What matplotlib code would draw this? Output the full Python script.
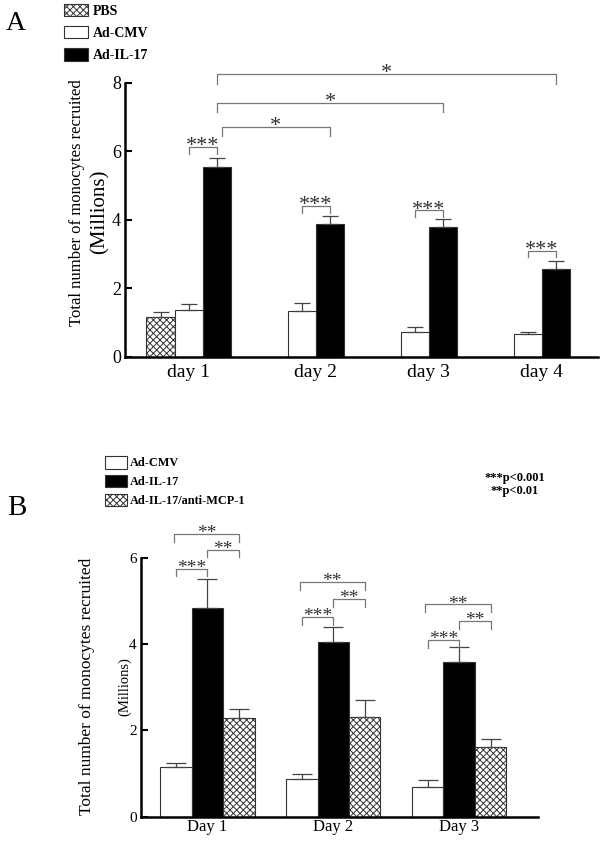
import numpy as np
import matplotlib.pyplot as plt

plt.rcParams['font.family'] = ['Liberation Serif', 'DejaVu Serif']
plt.rcParams['hatch.linewidth'] = 0.7

# Panel A: monocytes recruited (millions), mean and upper error
days_a = ['day 1', 'day 2', 'day 3', 'day 4']
pbs_a = [1.17]
pbs_a_err = [0.13]
cmv_a = [1.37, 1.32, 0.72, 0.66]
cmv_a_err = [0.17, 0.24, 0.16, 0.06]
il17_a = [5.53, 3.87, 3.80, 2.57]
il17_a_err = [0.27, 0.25, 0.23, 0.21]

# *** brackets Ad-CMV vs Ad-IL-17 (bracket height per day)
sig_a_within = [6.12, 4.39, 4.27, 3.10]
# * brackets day 1 Ad-IL-17 vs later days
sig_a_across_day = [1, 2, 3]
sig_a_across_h = [6.72, 7.42, 8.25]

# Panel B
days_b = ['Day 1', 'Day 2', 'Day 3']
cmv_b = [1.14, 0.87, 0.69]
cmv_b_err = [0.10, 0.11, 0.15]
il17_b = [4.84, 4.04, 3.59]
il17_b_err = [0.66, 0.35, 0.35]
mcp_b = [2.29, 2.32, 1.61]
mcp_b_err = [0.20, 0.38, 0.20]

# bracket heights: CMV vs IL-17 (***), IL-17 vs anti-MCP-1 (**), CMV vs anti-MCP-1 (**)
sig_b_cmv_il = [5.74, 4.62, 4.09]
sig_b_il_mcp = [6.18, 5.04, 4.53]
sig_b_cmv_mcp = [6.55, 5.43, 4.92]

edge = '#333333'
grey = '#777777'


def bars(ax, x, y, err, color, hatch=None, capsize=5.5, label=None):
    zeros = np.zeros(len(y))
    return ax.bar(x, y, width=1.0, color=color, edgecolor=edge, linewidth=0.8,
                  hatch=hatch, yerr=[zeros, err], capsize=capsize, label=label,
                  error_kw=dict(ecolor='#444444', elinewidth=0.9, capthick=0.9))


def bracket(ax, x0, x1, y, drop, label, fs, dy):
    ax.plot([x0, x0, x1, x1], [y - drop, y, y, y - drop], color=grey, lw=0.9,
            clip_on=False)
    ax.annotate(label, ((x0 + x1) / 2, y), xytext=(0, dy), textcoords='offset points',
                ha='center', va='baseline', fontsize=fs, color='#333333',
                annotation_clip=False)


def style(ax, ylim, yticks, ytick_fs, xtick_fs, xpad):
    ax.spines[['top', 'right']].set_visible(False)
    ax.spines['left'].set_linewidth(1.8)
    ax.spines['bottom'].set_linewidth(1.8)
    ax.set_ylim(ylim)
    ax.set_yticks(yticks)
    ax.tick_params(axis='y', direction='in', length=5, width=1.5, labelsize=ytick_fs, pad=3)
    ax.tick_params(axis='x', length=0, labelsize=xtick_fs, pad=xpad)


fig = plt.figure(figsize=(6.05, 8.43), dpi=100)

# ---------------- Panel A ----------------
axA = fig.add_axes([0.2066, 0.5769, 0.7818, 0.3250])
il_pos = 4 * np.arange(len(days_a))
cmv_pos = il_pos - 1
pbs_pos = [il_pos[0] - 2]

hA_pbs = bars(axA, pbs_pos, pbs_a, pbs_a_err, 'white', hatch='xxxxx', label='PBS')
hA_cmv = bars(axA, cmv_pos, cmv_a, cmv_a_err, 'white', label='Ad-CMV')
hA_il = bars(axA, il_pos, il17_a, il17_a_err, 'black', label='Ad-IL-17')

axA.set_xlim(-3.26, 13.49)
style(axA, (0, 8), [0, 2, 4, 6, 8], 13, 14, 5)
axA.set_xticks([cmv_pos[0]] + list(il_pos[1:] - 0.5))
axA.set_xticklabels(days_a)

for i, h in enumerate(sig_a_within):
    bracket(axA, cmv_pos[i], il_pos[i], h, 0.2, '***', 16, -3)
for j, (d, h) in enumerate(zip(sig_a_across_day, sig_a_across_h)):
    left = il_pos[0] + (0.17 if j == 0 else 0)
    bracket(axA, left, il_pos[d], h, 0.29, '*', 16, -3)

fig.text(76.7 / 605, 1 - 203 / 843, 'Total number of monocytes recruited',
         rotation=90, ha='center', va='center', fontsize=12)
fig.text(100 / 605, 1 - 212 / 843, '(Millions)', rotation=90,
         ha='center', va='center', fontsize=15)
fig.text(16 / 605, 1 - 24 / 843, 'A', ha='center', va='center', fontsize=20)

fig.legend(handles=[hA_pbs, hA_cmv, hA_il], loc='upper left',
           bbox_to_anchor=(64 / 605, 1 - 4 / 843), frameon=False, borderpad=0,
           borderaxespad=0, handlelength=1.73, handleheight=0.98,
           handletextpad=0.35, labelspacing=0.6,
           prop={'family': 'Liberation Serif', 'weight': 'bold', 'size': 10})

# ---------------- Panel B ----------------
axB = fig.add_axes([0.2331, 0.0312, 0.6557, 0.3072])
ilb_pos = 4 * np.arange(len(days_b))
cmvb_pos = ilb_pos - 1
mcpb_pos = ilb_pos + 1

hB_cmv = bars(axB, cmvb_pos, cmv_b, cmv_b_err, 'white', capsize=7, label='Ad-CMV')
hB_il = bars(axB, ilb_pos, il17_b, il17_b_err, 'black', capsize=7, label='Ad-IL-17')
hB_mcp = bars(axB, mcpb_pos, mcp_b, mcp_b_err, 'white', hatch='xxxxx', capsize=7,
              label='Ad-IL-17/anti-MCP-1')

axB.set_xlim(-2.11, 10.50)
style(axB, (0, 6), [0, 2, 4, 6], 11, 12, 2)
axB.set_xticks(ilb_pos)
axB.set_xticklabels(days_b)

for i in range(len(days_b)):
    bracket(axB, cmvb_pos[i], ilb_pos[i], sig_b_cmv_il[i], 0.17, '***', 14, -3)
    bracket(axB, ilb_pos[i], mcpb_pos[i], sig_b_il_mcp[i], 0.17, '**', 14, -3)
    bracket(axB, cmvb_pos[i] - 0.07, mcpb_pos[i], sig_b_cmv_mcp[i], 0.18, '**', 14, -3)

fig.text(87 / 605, 1 - 686 / 843, 'Total number of monocytes recruited',
         rotation=90, ha='center', va='center', fontsize=12.5)
fig.text(125 / 605, 1 - 687 / 843, '(Millions)', rotation=90,
         ha='center', va='center', fontsize=10.5)
fig.text(17 / 605, 1 - 508 / 843, 'B', ha='center', va='center', fontsize=21)
fig.text(514.5 / 605, 1 - 484.7 / 843, '***p<0.001\n**p<0.01', ha='center',
         va='center', multialignment='center', fontsize=9, fontweight='bold',
         linespacing=1.1)

fig.legend(handles=[hB_cmv, hB_il, hB_mcp], loc='upper left',
           bbox_to_anchor=(105 / 605, 1 - 456 / 843), frameon=False, borderpad=0,
           borderaxespad=0, handlelength=1.78, handleheight=1.2,
           handletextpad=0.25, labelspacing=0.45,
           prop={'family': 'Liberation Serif', 'weight': 'bold', 'size': 8.8})

fig.savefig('out.png', dpi=100)
